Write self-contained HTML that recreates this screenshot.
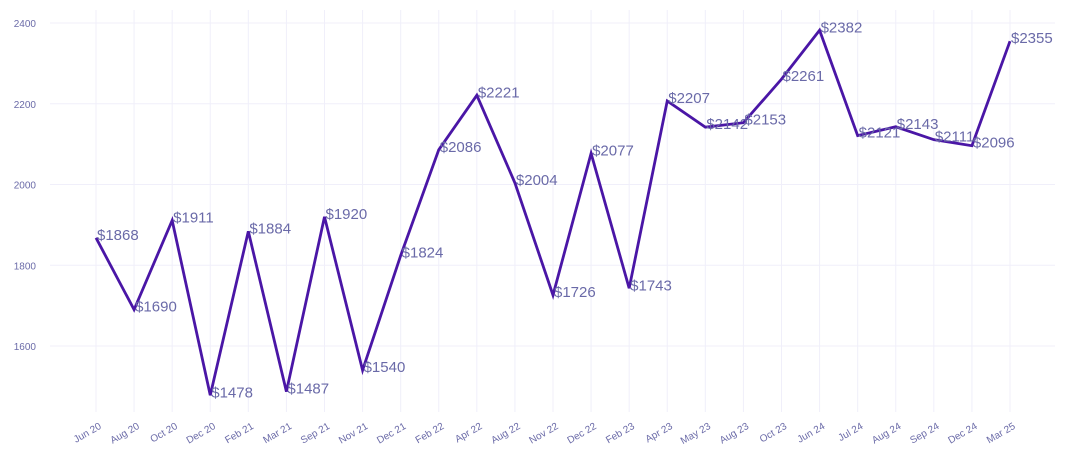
<!DOCTYPE html>
<html><head><meta charset="utf-8"><style>
body{margin:0;background:#fff;font-family:"Liberation Sans",sans-serif}
svg text{font-family:"Liberation Sans",sans-serif}
</style></head><body>
<svg id="c" width="1070" height="465"></svg>
<script>
const categories=["Jun 20","Aug 20","Oct 20","Dec 20","Feb 21","Mar 21","Sep 21","Nov 21","Dec 21","Feb 22","Apr 22","Aug 22","Nov 22","Dec 22","Feb 23","Apr 23","May 23","Aug 23","Oct 23","Jun 24","Jul 24","Aug 24","Sep 24","Dec 24","Mar 25"];
const values=[1868,1690,1911,1478,1884,1487,1920,1540,1824,2086,2221,2004,1726,2077,1743,2207,2142,2153,2261,2382,2121,2143,2111,2096,2355];
const yTicks=[1600,1800,2000,2200,2400];
const svgEl=document.getElementById('c');
const NS='http://www.w3.org/2000/svg';
function mk(t,a,p){const e=document.createElementNS(NS,t);for(const k in a)e.setAttribute(k,a[k]);(p||svgEl).appendChild(e);return e;}
const x0=96,x1=1010,plotLeft=50,plotRight=1055,plotTop=10,plotBottom=412;
const xs=i=>x0+(x1-x0)*i/(categories.length-1);
const ys=v=>23+(2400-v)*80.75/200;
const grid=mk('g',{});


yTicks.forEach(t=>{
  const l=mk('line',{x1:plotLeft,x2:plotRight,y1:ys(t),y2:ys(t),stroke:'#f0effa','stroke-width':1},grid);
  
  
  const tx=mk('text',{x:36,y:ys(t)+4,'text-anchor':'end','font-size':10,fill:'#6b6ba8'});
  tx.textContent=t;
  
  
});
categories.forEach((c,i)=>{
  const l=mk('line',{x1:xs(i),x2:xs(i),y1:plotTop,y2:plotBottom,stroke:'#f0effa','stroke-width':1},grid);
  
  
  const tx=mk('text',{x:0,y:0,'text-anchor':'end','font-size':10,fill:'#6b6ba8',transform:'translate('+(xs(i)+6)+',428) rotate(-30)'});
  tx.textContent=c;
  
  
});
const pts=values.map((v,i)=>xs(i)+','+ys(v)).join(' ');
const line=mk('polyline',{points:pts,fill:'none',stroke:'#4a16a6','stroke-width':2.8,'stroke-linejoin':'miter'});


values.forEach((v,i)=>{
  const tx=mk('text',{x:xs(i)+1,y:ys(v)+2,'font-size':15,fill:'#6a6aa8'});
  tx.textContent='$'+v;
  
  
});
</script>
</body></html>
